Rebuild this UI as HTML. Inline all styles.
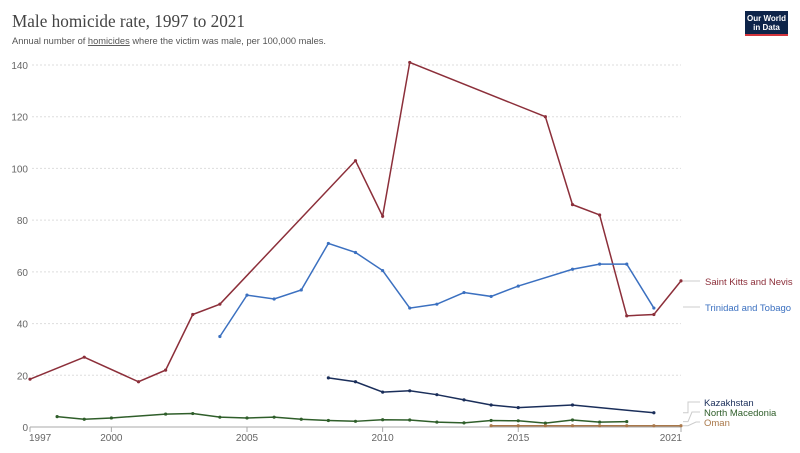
<!DOCTYPE html>
<html><head><meta charset="utf-8">
<style>
body{margin:0;background:#fff;width:800px;height:448px;overflow:hidden;font-family:"Liberation Sans",sans-serif;}
svg text{font-family:"Liberation Sans",sans-serif;}
</style></head>
<body>
<svg width="800" height="448" viewBox="0 0 800 448">
<text x="12" y="27" font-size="17.5" fill="#444" style="font-family:'Liberation Serif',serif" textLength="233" lengthAdjust="spacingAndGlyphs">Male homicide rate, 1997 to 2021</text>
<text x="12" y="44" font-size="9.5" fill="#555" textLength="314" lengthAdjust="spacingAndGlyphs">Annual number of <tspan text-decoration="underline">homicides</tspan> where the victim was male, per 100,000 males.</text>
<g>
<rect x="745" y="11" width="43" height="25" fill="#0d2449"/>
<rect x="745" y="34" width="43" height="2" fill="#d2343c"/>
<text x="766.5" y="21" font-size="8" fill="#fff" text-anchor="middle" font-weight="bold">Our World</text>
<text x="766.5" y="30" font-size="8" fill="#fff" text-anchor="middle" font-weight="bold">in Data</text>
</g>
<g id="grid"></g>
<g id="axes"></g>
<g id="series"></g>
<g id="labels"></g>
</svg>
<script>
const ns="http://www.w3.org/2000/svg";
const yTicks=[0,20,40,60,80,100,120,140];
const xTicks=[1997,2000,2005,2010,2015,2021];
const seriesNames=["Saint Kitts and Nevis","Trinidad and Tobago","Kazakhstan","North Macedonia","Oman"];
const kittsYears=[1997,1999,2001,2002,2003,2004,2009,2010,2011,2016,2017,2018,2019,2020,2021];
const kittsValues=[18.5,27,17.5,22,43.5,47.5,103,81.5,141,120,86,82,43,43.5,56.5];
const trinidadYears=[2004,2005,2006,2007,2008,2009,2010,2011,2012,2013,2014,2015,2017,2018,2019,2020];
const trinidadValues=[35,51,49.5,53,71,67.5,60.5,46,47.5,52,50.5,54.5,61,63,63,46];
const kazakhYears=[2008,2009,2010,2011,2012,2013,2014,2015,2017,2020];
const kazakhValues=[19,17.5,13.5,14,12.5,10.5,8.5,7.5,8.5,5.5];
const macedoniaYears=[1998,1999,2000,2002,2003,2004,2005,2006,2007,2008,2009,2010,2011,2012,2013,2014,2015,2016,2017,2018,2019];
const macedoniaValues=[4,3,3.5,5,5.2,3.8,3.5,3.8,3,2.5,2.2,2.8,2.7,1.9,1.6,2.5,2.4,1.5,2.7,1.9,2.1];
const omanYears=[2014,2015,2016,2017,2018,2019,2020,2021];
const omanValues=[0.5,0.5,0.5,0.5,0.5,0.5,0.5,0.5];
const colors=["#8c2f3a","#3b70c0","#1a2e5a","#2f5e2a","#a9784a"];
const labelY=[285,311,406,416,426];

const X=y=>30+(y-1997)*(651/24);
const Y=v=>427-v*(362/140);
function mk(tag,attrs,parent){const e=document.createElementNS(ns,tag);for(const k in attrs)e.setAttribute(k,attrs[k]);parent.appendChild(e);return e;}
const grid=document.getElementById('grid'),axes=document.getElementById('axes'),ser=document.getElementById('series'),lab=document.getElementById('labels');
yTicks.forEach(t=>{
  if(t>0){const l=mk('line',{x1:32,x2:681,y1:Y(t),y2:Y(t),stroke:'#ddd','stroke-dasharray':'2,2'},grid);
  
  }
  const tx=mk('text',{x:28,y:Y(t)+4,'font-size':10,fill:'#666','text-anchor':'end'},axes);tx.textContent=t;
  
  
});
const base=mk('line',{x1:30,x2:681,y1:427,y2:427,stroke:'#aaa'},axes);


xTicks.forEach(t=>{
  mk('line',{x1:X(t),x2:X(t),y1:427,y2:432,stroke:'#aaa'},axes);
  const tx=mk('text',{x:X(t),y:441,'font-size':10,fill:'#666','text-anchor':t==1997?'start':(t==2021?'end':'middle')},axes);tx.textContent=t;
  if(t==1997)tx.setAttribute('x',X(t)-1);
  if(t==2021)tx.setAttribute('x',X(t)+1);
  
  
});
const data=[[kittsYears,kittsValues],[trinidadYears,trinidadValues],[kazakhYears,kazakhValues],[macedoniaYears,macedoniaValues],[omanYears,omanValues]];
data.forEach((d,i)=>{
  const [ys,vs]=d;const c=colors[i];
  const p=mk('polyline',{points:ys.map((y,j)=>X(y)+','+Y(vs[j])).join(' '),fill:'none',stroke:c,'stroke-width':1.5},ser);
  
  
  ys.forEach((y,j)=>{const cc=mk('circle',{cx:X(y),cy:Y(vs[j]),r:1.6,fill:c},ser);
    
    });
  const ey=Y(vs[vs.length-1]);
  const ly=labelY[i];
  if(i<2){
    const cl=mk('line',{x1:683,x2:700,y1:ly-4,y2:ly-4,stroke:'#ccc'},lab);
    
    
  } else {
    const cl=mk('polyline',{points:`683,${ey} ${688},${ey} ${688+(i-2)*4},${ly-4} 700,${ly-4}`,fill:'none',stroke:'#ccc'},lab);
    
    
  }
  const t=mk('text',{x:i<2?705:704,y:ly,'font-size':9.5,fill:c},lab);t.textContent=seriesNames[i];
  
  
});
</script>
</body></html>
